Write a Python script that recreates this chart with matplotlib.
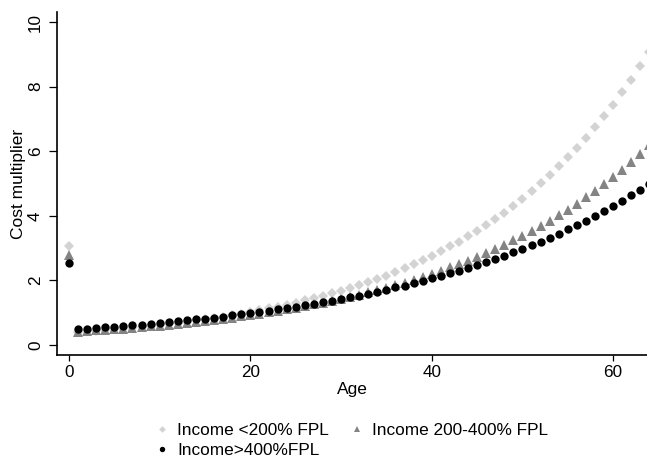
import matplotlib
matplotlib.use("Agg")
import matplotlib.pyplot as plt

plt.rcParams['font.family'] = ['Liberation Sans', 'DejaVu Sans']

ages = list(range(0, 65))

# Income <200% FPL (light grey diamonds)
low_inc = [3.07, 0.40, 0.42, 0.44, 0.46, 0.49, 0.51, 0.54, 0.57, 0.59,
           0.62, 0.66, 0.69, 0.72, 0.76, 0.80, 0.84, 0.88, 0.93, 0.97,
           1.02, 1.08, 1.13, 1.19, 1.25, 1.31, 1.38, 1.45, 1.52, 1.60,
           1.68, 1.77, 1.86, 1.95, 2.05, 2.15, 2.26, 2.38, 2.50, 2.63,
           2.76, 2.90, 3.05, 3.20, 3.37, 3.54, 3.72, 3.90, 4.10, 4.31,
           4.53, 4.76, 5.01, 5.26, 5.53, 5.81, 6.10, 6.41, 6.74, 7.08,
           7.44, 7.82, 8.22, 8.64, 9.08]

# Income 200-400% FPL (grey triangles)
mid_inc = [2.78, 0.41, 0.43, 0.45, 0.47, 0.49, 0.51, 0.53, 0.55, 0.58,
           0.60, 0.63, 0.66, 0.69, 0.72, 0.75, 0.78, 0.82, 0.85, 0.89,
           0.93, 0.97, 1.01, 1.06, 1.10, 1.15, 1.20, 1.26, 1.31, 1.37,
           1.43, 1.49, 1.56, 1.63, 1.70, 1.77, 1.85, 1.93, 2.02, 2.11,
           2.20, 2.30, 2.40, 2.50, 2.61, 2.73, 2.85, 2.97, 3.10, 3.24,
           3.38, 3.53, 3.69, 3.85, 4.02, 4.19, 4.38, 4.57, 4.77, 4.98,
           5.20, 5.43, 5.67, 5.92, 6.18]

# Income>400%FPL (black circles)
high_inc = [2.53, 0.49, 0.51, 0.53, 0.55, 0.57, 0.59, 0.61, 0.63, 0.66,
            0.68, 0.71, 0.73, 0.76, 0.79, 0.82, 0.85, 0.88, 0.92, 0.95,
            0.99, 1.02, 1.06, 1.10, 1.14, 1.19, 1.23, 1.28, 1.32, 1.37,
            1.43, 1.48, 1.53, 1.59, 1.65, 1.71, 1.78, 1.84, 1.91, 1.99,
            2.06, 2.14, 2.22, 2.30, 2.39, 2.48, 2.57, 2.66, 2.76, 2.87,
            2.98, 3.09, 3.20, 3.32, 3.45, 3.58, 3.71, 3.85, 4.00, 4.15,
            4.30, 4.46, 4.63, 4.80, 4.98]

labels = ["Income <200% FPL", "Income 200-400% FPL", "Income>400%FPL"]

fig = plt.figure(figsize=(6.47, 4.61), dpi=100)
ax = fig.add_axes([57 / 647, 106 / 461, 590 / 647, 343 / 461])

h1, = ax.plot(ages, low_inc, linestyle='none', marker='D', markersize=5.2,
              color='#d3d3d3', markeredgewidth=0, label=labels[0])
h2, = ax.plot(ages, mid_inc, linestyle='none', marker='^', markersize=7,
              color='#848484', markeredgewidth=0, label=labels[1])
h3, = ax.plot(ages, high_inc, linestyle='none', marker='o', markersize=6,
              color='black', markeredgewidth=0, label=labels[2])

ax.set_xlim(-1.32, 63.73)
ax.set_ylim(-0.31, 10.31)
ax.set_xticks([0, 20, 40, 60])
ax.set_yticks([0, 2, 4, 6, 8, 10])
ax.tick_params(axis='both', direction='out', width=0.9,
               labelsize=12.3, color='black')
ax.tick_params(axis='x', length=4.5, pad=3)
ax.tick_params(axis='y', length=6, pad=4)
for lab in ax.get_yticklabels():
    lab.set_rotation(90)
    lab.set_va('center')

ax.spines['top'].set_visible(False)
ax.spines['right'].set_visible(False)
ax.spines['left'].set_linewidth(1.2)
ax.spines['bottom'].set_linewidth(1.2)

ax.set_xlabel('Age', fontsize=12.5)
ax.set_ylabel('Cost multiplier', fontsize=12.5)
ax.xaxis.set_label_coords(0.5, -0.078)
ax.yaxis.set_label_coords(-0.052, 0.5)

# row-major order: low, mid on first row; high on second row
fig.legend([h1, h3, h2], [labels[0], labels[2], labels[1]],
           loc='upper left', bbox_to_anchor=(143 / 647, 1 - 411 / 461),
           ncol=2, frameon=False, fontsize=12.4, markerscale=0.65,
           handlelength=0.8, handletextpad=0.5, columnspacing=1.2,
           labelspacing=0.3, borderpad=0.2)

fig.savefig('out.png', dpi=100)
